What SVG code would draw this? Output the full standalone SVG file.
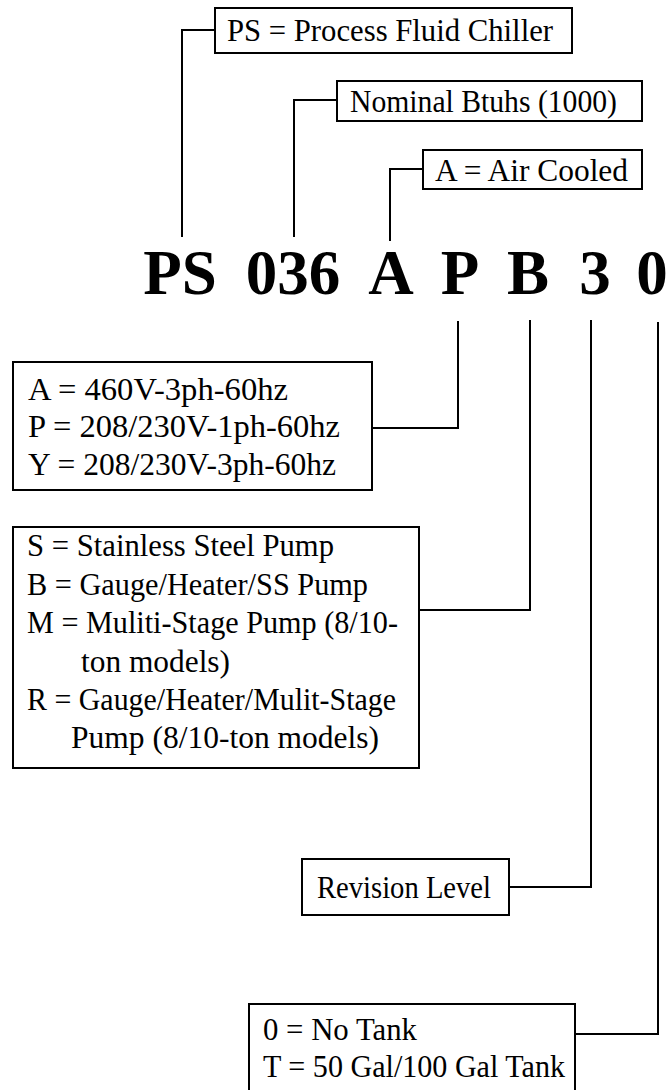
<svg xmlns="http://www.w3.org/2000/svg" width="670" height="1090" viewBox="0 0 670 1090">
<style>
.box{fill:#fff;stroke:#000;stroke-width:2}
.t{font-family:"Liberation Serif","Times New Roman",serif;font-size:32px;fill:#000}
.code{font-family:"Liberation Serif","Times New Roman",serif;font-size:63px;font-weight:bold;fill:#000;text-anchor:middle}
.c{fill:none;stroke:#000;stroke-width:2}
</style>
<rect width="670" height="1090" fill="#fff"/>
<g id="connectors">
<path class="c" d="M215,30 H182 V237"/>
<path class="c" d="M337,100 H294 V237"/>
<path class="c" d="M423,169 H390 V241"/>
<path class="c" d="M372,428 H458 V321"/>
<path class="c" d="M419,610 H530 V320"/>
<path class="c" d="M509,887 H591 V320"/>
<path class="c" d="M575,1034 H658 V322"/>
</g>
<g id="code">
<text class="code" x="180" y="294">PS</text>
<text class="code" x="293" y="294">036</text>
<text class="code" x="391" y="294">A</text>
<text class="code" x="460" y="294">P</text>
<text class="code" x="528" y="294">B</text>
<text class="code" x="595" y="294">3</text>
<text class="code" x="652" y="294">0</text>
</g>
<g id="node-ps">
<rect class="box" x="215" y="8" width="357" height="45"/>
<text class="t" x="227" y="41" textLength="326" lengthAdjust="spacingAndGlyphs">PS = Process Fluid Chiller</text>
</g>
<g id="node-btuh">
<rect class="box" x="337" y="81" width="305" height="40"/>
<text class="t" x="350" y="112" textLength="267" lengthAdjust="spacingAndGlyphs">Nominal Btuhs (1000)</text>
</g>
<g id="node-air">
<rect class="box" x="423" y="150" width="219" height="39"/>
<text class="t" x="435" y="181" textLength="193" lengthAdjust="spacingAndGlyphs">A = Air Cooled</text>
</g>
<g id="node-voltage">
<rect class="box" x="13" y="362" width="359" height="128"/>
<text class="t" x="28" y="400" textLength="260" lengthAdjust="spacingAndGlyphs">A = 460V-3ph-60hz</text>
<text class="t" x="28" y="437" textLength="312" lengthAdjust="spacingAndGlyphs">P = 208/230V-1ph-60hz</text>
<text class="t" x="28" y="475" textLength="308" lengthAdjust="spacingAndGlyphs">Y = 208/230V-3ph-60hz</text>
</g>
<g id="node-pump">
<rect class="box" x="13" y="527" width="406" height="241"/>
<text class="t" x="27" y="556" textLength="307" lengthAdjust="spacingAndGlyphs">S = Stainless Steel Pump</text>
<text class="t" x="27" y="595" textLength="341" lengthAdjust="spacingAndGlyphs">B = Gauge/Heater/SS Pump</text>
<text class="t" x="27" y="633" textLength="371" lengthAdjust="spacingAndGlyphs">M = Muliti-Stage Pump (8/10-</text>
<text class="t" x="81" y="672" textLength="149" lengthAdjust="spacingAndGlyphs">ton models)</text>
<text class="t" x="27" y="710" textLength="369" lengthAdjust="spacingAndGlyphs">R = Gauge/Heater/Mulit-Stage</text>
<text class="t" x="71" y="748" textLength="308" lengthAdjust="spacingAndGlyphs">Pump (8/10-ton models)</text>
</g>
<g id="node-revision">
<rect class="box" x="302" y="859" width="207" height="56"/>
<text class="t" x="317" y="898" textLength="174" lengthAdjust="spacingAndGlyphs">Revision Level</text>
</g>
<g id="node-tank">
<rect class="box" x="249" y="1004" width="326" height="100"/>
<text class="t" x="263" y="1040" textLength="154" lengthAdjust="spacingAndGlyphs">0 = No Tank</text>
<text class="t" x="263" y="1077" textLength="302" lengthAdjust="spacingAndGlyphs">T = 50 Gal/100 Gal Tank</text>
</g>
</svg>
